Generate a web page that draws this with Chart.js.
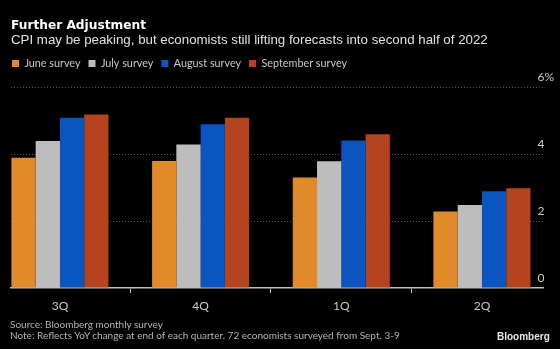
<!DOCTYPE html>
<html>
<head>
<meta charset="utf-8">
<script src="https://cdn.jsdelivr.net/npm/chart.js@4/dist/chart.umd.min.js"></script>
<style>
  html, body { margin: 0; padding: 0; background: #000; }
  #wrap { position: relative; width: 560px; height: 349px; background: #000; overflow: hidden; }
  #c { position: absolute; left: 0; top: 0; }
  .foot { position: absolute; left: 10px; color: #b4b4b4; font: 10px/12px Lato, "Liberation Sans", sans-serif; white-space: nowrap; }
  #brand { position: absolute; left: 497px; top: 331px; color: #e6e6e6; font: bold 10px "Liberation Sans", Arial, sans-serif; }
</style>
</head>
<body>
<div id="wrap">
  <canvas id="c" width="560" height="349"></canvas>
  <div class="foot" style="top:318px">Source: Bloomberg monthly survey</div>
  <div class="foot" style="top:329px">Note: Reflects YoY change at end of each quarter. 72 economists surveyed from Sept. 3-9</div>
  <div id="brand">Bloomberg</div>
</div>
<script>
// Quarters forecast in each survey (CPI, YoY %)
const quarters = ['3Q', '4Q', '1Q', '2Q'];
const seriesNames = ['June survey', 'July survey', 'August survey', 'September survey'];
const juneSurvey = [3.89, 3.79, 3.30, 2.28];
const julySurvey = [4.39, 4.28, 3.78, 2.48];
const augustSurvey = [5.08, 4.89, 4.40, 2.89];
const septemberSurvey = [5.18, 5.08, 4.59, 2.98];
const yTicks = [0, 2, 4, 6];
const colors = ['#e08a2a', '#bdbdbd', '#0a55c0', '#b5441e'];

const allSeries = [juneSurvey, julySurvey, augustSurvey, septemberSurvey];
const datasets = allSeries.map((vals, s) => ({
  label: seriesNames[s],
  data: vals.map((v, i) => ({ x: i, y: v })),
  backgroundColor: colors[s],
  borderWidth: 0,
  categoryPercentage: 0.69,
  barPercentage: 1.0
}));

const SANS = '"Liberation Sans", Arial, sans-serif';
const SMALL = 'Lato, "Liberation Sans", sans-serif';

// nudge the legend so its first swatch lines up under the title
const legendShift = {
  id: 'legendShift',
  afterLayout(chart) {
    if (chart.legend) { chart.legend.left -= 7; chart.legend.right -= 7; }
  }
};

new Chart(document.getElementById('c'), {
  type: 'bar',
  data: { datasets },
  plugins: [legendShift],
  options: {
    responsive: false,
    animation: false,
    layout: { padding: { left: 11, right: 0, top: 15, bottom: 35 } },
    plugins: {
      title: {
        display: true, text: 'Further Adjustment', align: 'start',
        color: '#ffffff', font: { family: '"DejaVu Sans", sans-serif', size: 12.2, weight: 'bold', lineHeight: 1 },
        padding: { top: 5, bottom: 0 }
      },
      subtitle: {
        display: true,
        text: 'CPI may be peaking, but economists still lifting forecasts into second half of 2022',
        align: 'start', color: '#e0e0e0', font: { family: SANS, size: 13.3 },
        padding: { top: 0, bottom: 2 }
      },
      legend: {
        position: 'top', align: 'start',
        labels: { color: '#c8c8c8', boxWidth: 7, boxHeight: 7, padding: 8, font: { family: SMALL, size: 10.8 } }
      },
      tooltip: { enabled: false }
    },
    scales: {
      x: {
        type: 'linear', offset: false,
        min: -0.348, max: 3.434,
        afterBuildTicks: (scale) => { scale.ticks = quarters.map((q, i) => ({ value: i })); },
        afterFit: (scale) => { scale.height = 26; },
        ticks: {
          color: '#c8c8c8', font: { family: SMALL, size: 12 }, padding: 6,
          callback: (v) => quarters[v]
        },
        grid: { drawOnChartArea: false, drawTicks: true, tickLength: 5, color: '#bdbdbd', lineWidth: 1 },
        border: { display: true, color: '#bdbdbd', width: 1.5 }
      },
      y: {
        position: 'right', min: 0, max: 6.24,
        afterBuildTicks: (scale) => { scale.ticks = yTicks.map(v => ({ value: v })); },
        afterFit: (scale) => { scale.width = 17; },
        ticks: {
          mirror: true, crossAlign: 'far',
          color: '#c8c8c8', font: { family: SMALL, size: 12 }, padding: 11, labelOffset: -10,
          callback: (v) => (v === 6 ? v + '%' : String(v))
        },
        grid: {
          drawTicks: false,
          color: (ctx) => (ctx.tick && ctx.tick.value === 0 ? 'rgba(0,0,0,0)' : '#5a5a5a'),
          lineWidth: 1
        },
        border: { display: false, dash: [1, 2] }
      }
    }
  }
});
</script>
</body>
</html>
